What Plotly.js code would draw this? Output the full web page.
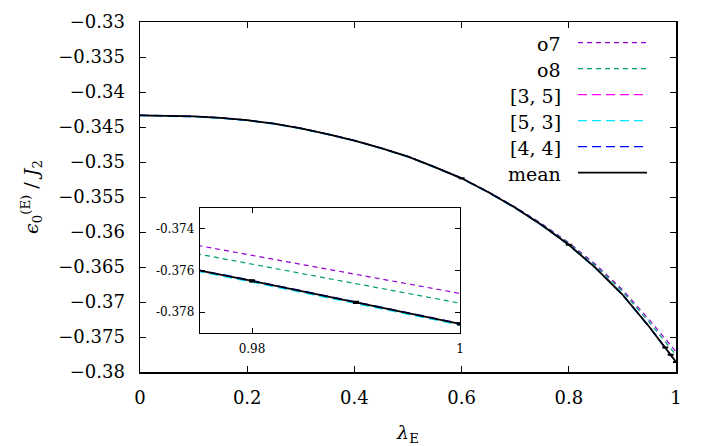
<!DOCTYPE html>
<html>
<head>
<meta charset="utf-8">
<script src="https://cdn.plot.ly/plotly-3.0.1.min.js"></script>
<style>
  html, body { margin: 0; padding: 0; background: #fff; }
  #chart { width: 718px; height: 446px; }
</style>
</head>
<body>
<div id="chart"></div>
<script>
// Coupling values lambda_E
const lambdaE = [0, 0.05, 0.1, 0.15, 0.2, 0.25, 0.3, 0.35, 0.4, 0.45, 0.5, 0.55,
                 0.6, 0.65, 0.7, 0.75, 0.8, 0.85, 0.9, 0.95, 0.975, 0.98, 0.99, 1];

// Ground-state energy per site, eps_0^(E) / J_2, for each estimate
const energyO7 = [-0.34333, -0.34337, -0.34349, -0.34370, -0.34403, -0.34452, -0.34519, -0.34603,
                  -0.34693, -0.34803, -0.34921, -0.35070, -0.35228, -0.35426, -0.35643, -0.35883,
                  -0.36153, -0.36463, -0.36823, -0.37253, -0.37483, -0.37528, -0.37619, -0.37710];
const energyO8 = [-0.34333, -0.34337, -0.34349, -0.34370, -0.34403, -0.34452, -0.34519, -0.34603,
                  -0.34693, -0.34803, -0.34922, -0.35071, -0.35230, -0.35429, -0.35648, -0.35893,
                  -0.36163, -0.36483, -0.36848, -0.37288, -0.37524, -0.37571, -0.37664, -0.37757];
const energy35 = [-0.34335, -0.34339, -0.34351, -0.34372, -0.34405, -0.34454, -0.34521, -0.34605,
                  -0.34695, -0.34805, -0.34925, -0.35075, -0.35235, -0.35435, -0.35655, -0.35905,
                  -0.36185, -0.36515, -0.36895, -0.37355, -0.37601, -0.37652, -0.37755, -0.37858];
const energy53 = [-0.34339, -0.34343, -0.34355, -0.34376, -0.34409, -0.34458, -0.34525, -0.34609,
                  -0.34699, -0.34809, -0.34929, -0.35079, -0.35239, -0.35439, -0.35659, -0.35909,
                  -0.36189, -0.36519, -0.36899, -0.37359, -0.37605, -0.37656, -0.37759, -0.37862];
const energy44 = [-0.34331, -0.34335, -0.34347, -0.34368, -0.34401, -0.34450, -0.34517, -0.34601,
                  -0.34691, -0.34801, -0.34921, -0.35071, -0.35231, -0.35431, -0.35651, -0.35901,
                  -0.36181, -0.36511, -0.36891, -0.37351, -0.37597, -0.37648, -0.37751, -0.37854];
const energyMean = [-0.34333, -0.34337, -0.34349, -0.34370, -0.34403, -0.34452, -0.34519, -0.34603,
                    -0.34693, -0.34803, -0.34923, -0.35073, -0.35233, -0.35433, -0.35653, -0.35903,
                    -0.36183, -0.36513, -0.36893, -0.37353, -0.37599, -0.37650, -0.37753, -0.37856];

// Points of the mean carrying an uncertainty
const errLambda = [0.6, 0.8, 0.98, 0.99, 1];
const errMean   = [-0.35233, -0.36183, -0.37650, -0.37753, -0.37856];
const errSize   = [0.00004, 0.00004, 0.00004, 0.00004, 0.00004];

const seriesNames = ['o7', 'o8', '[3, 5]', '[5, 3]', '[4, 4]', 'mean'];
const seriesData  = [energyO7, energyO8, energy35, energy53, energy44, energyMean];

// Inset tick labels (plain hyphen minus)
const insetXTicks = [0.98, 1];
const insetXLabels = ['0.98', '1'];
const insetYTicks = [-0.378, -0.376, -0.374];
const insetYLabels = ['-0.378', '-0.376', '-0.374'];

// Styles
const colors = ['#9400d3', '#009e73', '#ff00ff', '#00e8ff', '#0000ff', '#000000'];
const dashes = ['5px,4px', '5px,4px', '9px,5px', '9px,5px', '9px,5px', 'solid'];
const widths = [1.2, 1.2, 1.3, 1.3, 1.3, 1.8];
const serifFont = (size) => ({ family: 'DejaVu Serif', size: size, color: '#000' });

const W = 718, H = 446;
const M = { l: 140, r: 42, t: 22, b: 74 };
const plotW = W - M.l - M.r, plotH = H - M.t - M.b;
const toPaperX = x => (x - M.l) / plotW;
const toPaperY = y => (H - M.b - y) / plotH;

const traces = [];
seriesData.forEach((ys, i) => {
  const base = {
    x: lambdaE, y: ys, name: seriesNames[i], mode: 'lines', showlegend: false,
    line: { color: colors[i], width: widths[i], dash: dashes[i] }, hoverinfo: 'skip'
  };
  traces.push(Object.assign({}, base, { xaxis: 'x', yaxis: 'y' }));
  traces.push(Object.assign({}, base, { xaxis: 'x2', yaxis: 'y2' }));
});
[['x', 'y'], ['x2', 'y2']].forEach(([xa, ya]) => {
  traces.push({
    x: errLambda, y: errMean, xaxis: xa, yaxis: ya, mode: 'markers', showlegend: false,
    marker: { size: 1, color: '#000' }, hoverinfo: 'skip',
    error_y: { type: 'data', array: errSize, visible: true, color: '#000', thickness: 1.5, width: 3 }
  });
});

// Key: label on the left, line sample on the right
const shapes = [];
const annotations = [];
seriesNames.forEach((name, i) => {
  const yPx = 42.7 + i * 26;
  shapes.push({
    type: 'line', xref: 'paper', yref: 'paper',
    x0: toPaperX(578), x1: toPaperX(647), y0: toPaperY(yPx), y1: toPaperY(yPx),
    line: { color: colors[i], width: widths[i], dash: dashes[i] }
  });
  annotations.push({
    text: name, xref: 'paper', yref: 'paper', x: toPaperX(563), y: toPaperY(yPx + 1),
    xanchor: 'right', yanchor: 'middle', showarrow: false,
    font: serifFont(19)
  });
});

const axisCommon = {
  showgrid: false, zeroline: false, showline: true, linecolor: '#000',
  ticks: 'inside', tickcolor: '#000', mirror: 'allticks'
};

const layout = {
  width: W, height: H, margin: M,
  paper_bgcolor: '#fff', plot_bgcolor: '#fff',
  font: serifFont(18),
  showlegend: false,
  xaxis: Object.assign({}, axisCommon, {
    domain: [0, 1], range: [0, 1], dtick: 0.2, tick0: 0, linewidth: 1.5, ticklen: 6,
    tickfont: serifFont(18), ticklabelstandoff: 9,
    title: { text: '<i>λ</i><sub>E</sub>', font: serifFont(19), standoff: 18 },
    anchor: 'y'
  }),
  yaxis: Object.assign({}, axisCommon, {
    domain: [0, 1], range: [-0.38, -0.33], dtick: 0.005, tick0: -0.38, linewidth: 1.5, ticklen: 6,
    tickfont: serifFont(18), ticklabelstandoff: 10,
    title: { text: '<i>ϵ</i><sub>0</sub><sup>(E)</sup> / <i>J</i><sub>2</sub>',
             font: serifFont(19), standoff: 14 },
    anchor: 'x'
  }),
  xaxis2: Object.assign({}, axisCommon, {
    domain: [toPaperX(200), toPaperX(460)], range: [0.975, 1], anchor: 'y2',
    tickvals: insetXTicks, ticktext: insetXLabels, linewidth: 1.3, ticklen: 5,
    tickfont: serifFont(12), ticklabelstandoff: 4
  }),
  yaxis2: Object.assign({}, axisCommon, {
    domain: [toPaperY(333), toPaperY(208)], range: [-0.379, -0.373], anchor: 'x2',
    tickvals: insetYTicks, ticktext: insetYLabels, linewidth: 1.3, ticklen: 5,
    tickfont: serifFont(12), ticklabelstandoff: 2
  }),
  shapes: shapes,
  annotations: annotations
};

Plotly.newPlot('chart', traces, layout, { staticPlot: true, displayModeBar: false });
</script>
</body>
</html>
